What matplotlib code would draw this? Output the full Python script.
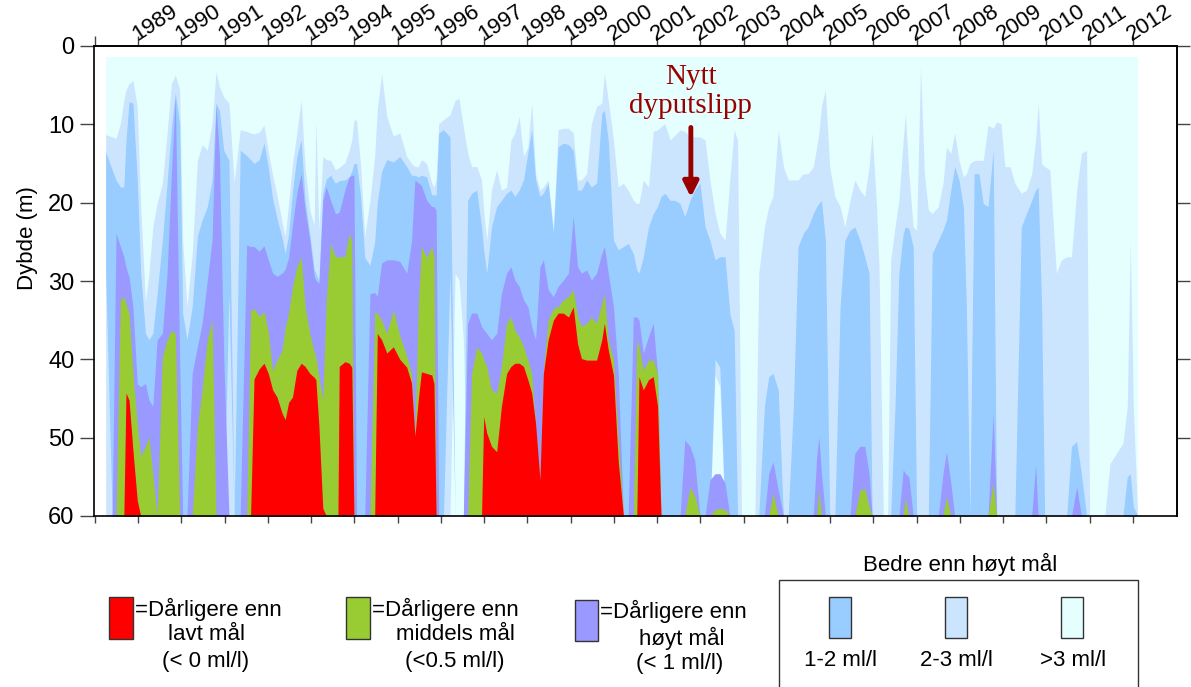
import numpy as np
import matplotlib
matplotlib.use("Agg")
import matplotlib.pyplot as plt
from matplotlib.patches import Rectangle

plt.rcParams['font.family'] = ['Liberation Sans', 'DejaVu Sans']

# ---------------- data ----------------
# sampling times (decimal year)
time = [
    1988.25, 1988.40, 1988.49, 1988.59, 1988.67, 1988.72, 1988.79, 1988.88, 1988.98,
    1989.06, 1989.17, 1989.25, 1989.34, 1989.44, 1989.56, 1989.67, 1989.77, 1989.86, 1989.96,
    1990.03, 1990.13, 1990.25, 1990.37, 1990.48, 1990.60, 1990.71, 1990.80, 1990.88, 1990.98,
    1991.10, 1991.22, 1991.36, 1991.51, 1991.60, 1991.68, 1991.80, 1991.91,
    1992.01, 1992.11, 1992.21, 1992.33, 1992.40, 1992.48, 1992.57, 1992.67, 1992.77, 1992.86, 1992.97,
    1993.07, 1993.11, 1993.18, 1993.27, 1993.35, 1993.45, 1993.56, 1993.62, 1993.65, 1993.78, 1993.88, 1993.94, 1993.99,
    1994.05, 1994.14, 1994.24, 1994.36, 1994.47, 1994.53, 1994.63, 1994.75, 1994.90,
    1995.05, 1995.21, 1995.32, 1995.40, 1995.48, 1995.55, 1995.67, 1995.79, 1995.84, 1995.89, 1995.95,
    1996.06, 1996.21, 1996.33, 1996.42, 1996.52, 1996.62, 1996.71, 1996.83, 1996.94, 1996.99,
    1997.06, 1997.17, 1997.29, 1997.40, 1997.52, 1997.62, 1997.71, 1997.81, 1997.91,
    1998.01, 1998.10, 1998.19, 1998.29, 1998.37, 1998.48, 1998.60, 1998.71, 1998.83, 1998.95,
    1999.06, 1999.16, 1999.25, 1999.37, 1999.48, 1999.60, 1999.72, 1999.78, 1999.87, 1999.99,
    2000.10, 2000.22, 2000.33, 2000.45, 2000.53, 2000.58, 2000.68, 2000.80, 2000.91,
    2001.01, 2001.09, 2001.18, 2001.30, 2001.41, 2001.53, 2001.64, 2001.76, 2001.87, 2001.99,
    2002.11, 2002.22, 2002.34, 2002.45, 2002.57, 2002.68, 2002.78, 2002.86, 2002.95,
    2003.11, 2003.26, 2003.35, 2003.48, 2003.58, 2003.68, 2003.80, 2003.92,
    2004.03, 2004.15, 2004.26, 2004.38, 2004.49, 2004.61, 2004.69, 2004.74, 2004.80, 2004.89, 2004.99,
    2005.11, 2005.23, 2005.34, 2005.46, 2005.57, 2005.69, 2005.80, 2005.90, 2005.97,
    2006.07, 2006.13, 2006.23, 2006.33, 2006.40, 2006.50, 2006.59, 2006.69, 2006.74, 2006.82, 2006.92,
    2007.00, 2007.09, 2007.18, 2007.27, 2007.36, 2007.50, 2007.61, 2007.69, 2007.79, 2007.88, 2007.98,
    2008.08, 2008.15, 2008.23, 2008.33, 2008.44, 2008.54, 2008.65, 2008.77, 2008.85, 2008.95,
    2009.04, 2009.16, 2009.27, 2009.42, 2009.54, 2009.66, 2009.75, 2009.81, 2009.89, 2009.96,
    2010.08, 2010.23, 2010.35, 2010.47, 2010.58, 2010.70, 2010.81, 2010.93,
    2011.00, 2011.12, 2011.35, 2011.47, 2011.62, 2011.77, 2011.87, 2011.94,
    2012.01, 2012.11,
]

# depth (m) where oxygen first falls below 3 ml/l (top of 2-3 ml/l layer)
depth_below_3 = [
    11.3, 11.6, 11.8, 9.9, 6.9, 5.6, 4.8, 4.4, 7.7,
    20.5, 32.6, 29.0, 23.1, 20.1, 17.5, 11.1, 4.8, 3.7, 5.6,
    24.8, 33.3, 26.5, 14.6, 12.6, 13.3, 9.9, 3.3, 5.2, 6.5,
    7.3, 17.4, 10.7, 10.9, 11.1, 11.2, 11.0, 10.1,
    13.5, 16.5, 19.0, 22.5, 24.3, 20.0, 15.0, 11.1, 6.9, 15.4, 20.9,
    23.0, 9.4, 23.5, 14.1, 14.5, 14.6, 15.8, 15.6, 15.5, 14.9, 13.3, 12.0, 9.5,
    9.4, 15.0, 24.3, 19.7, 14.0, 8.0, 3.5, 9.0, 11.5,
    11.1, 14.1, 15.0, 15.4, 15.4, 14.5, 15.0, 17.5, 18.0, 17.0, 9.9,
    9.4, 8.8, 6.9, 6.7, 10.3, 13.7, 15.4, 15.4, 17.1, 21.0,
    24.8, 18.4, 15.8, 18.4, 18.0, 12.0, 11.1, 9.0, 14.1,
    12.9, 7.3, 16.3, 18.4, 18.0, 17.1, 23.1, 10.7, 10.5, 10.5,
    11.1, 17.1, 17.1, 16.3, 9.9, 7.7, 7.3, 3.5, 6.9, 12.0,
    18.0, 17.5, 18.4, 19.7, 20.1, 20.1, 17.1, 18.0, 10.9,
    10.7, 10.3, 9.9, 12.0, 11.4, 10.7, 10.9, 11.6, 11.6, 11.6,
    12.0, 17.1, 21.4, 23.9, 24.8, 17.1, 10.7, 12.0, 60,
    60, 60, 29.0, 23.1, 20.5, 19.2, 10.7, 15.4,
    17.1, 17.1, 17.1, 16.3, 16.3, 15.4, 12.9, 11.1, 7.7, 5.6, 15.4,
    19.2, 20.5, 23.1, 19.7, 17.1, 18.4, 19.2, 15.4, 11.1,
    20.0, 28.2, 60, 60, 27.3, 23.1, 19.7, 12.0, 8.6, 16.3, 23.1,
    23.5, 2.6, 16.3, 20.9, 21.4, 20.5, 17.5, 12.9, 13.7, 11.1, 14.6,
    16.7, 16.3, 15.0, 14.6, 14.6, 14.6, 10.1, 10.5, 9.7, 9.9,
    15.4, 15.4, 17.5, 18.8, 18.4, 16.3, 12.0, 7.3, 15.0, 15.4,
    15.8, 29.0, 27.3, 26.9, 26.9, 18.4, 13.7, 13.3,
    60, 60, 60, 53.3, 52.0, 50.7, 46.0, 24.8,
    46.0, 60,
]

# depth (m) where oxygen first falls below 2 ml/l
depth_below_2 = [
    13.5, 15.8, 17.1, 18.0, 18.0, 12.0, 7.1, 7.3, 17.1,
    29.0, 36.7, 37.5, 36.7, 31.6, 24.8, 17.5, 10.3, 6.0, 9.9,
    34.1, 37.5, 33.3, 24.3, 22.2, 20.5, 17.1, 7.3, 8.2, 13.3,
    14.6, 60, 13.3, 14.0, 14.5, 15.0, 14.5, 12.4,
    15.5, 19.5, 22.0, 24.5, 26.5, 24.0, 18.5, 14.1, 12.0, 19.7, 24.0,
    28.5, 29.0, 30.0, 18.8, 17.0, 16.5, 17.5, 17.3, 17.2, 17.1, 16.7, 16.0, 15.0,
    15.0, 19.0, 27.0, 28.0, 25.0, 20.0, 16.0, 14.5, 14.8,
    14.1, 15.4, 16.5, 16.5, 16.7, 16.5, 16.7, 19.0, 19.0, 19.0, 11.1,
    10.7, 11.6, 60, 60, 60, 19.7, 18.8, 18.4, 23.1, 26.0,
    29.0, 23.1, 20.5, 19.7, 18.8, 18.4, 19.2, 18.4, 17.1,
    13.7, 10.7, 17.1, 19.2, 18.8, 17.5, 23.9, 12.9, 12.4, 12.6,
    13.3, 18.4, 18.4, 17.1, 18.0, 17.5, 8.6, 8.2, 12.0, 24.8,
    26.0, 25.6, 25.2, 26.5, 28.6, 29.0, 26.9, 23.1, 21.4,
    20.5, 19.2, 18.8, 19.7, 19.7, 20.1, 21.8, 19.7, 18.4, 17.5,
    23.1, 24.8, 27.3, 26.9, 26.9, 34.1, 36.3, 60, 60,
    60, 60, 60, 46.0, 42.2, 41.8, 43.9, 60,
    60, 46.0, 25.6, 23.9, 23.1, 21.4, 20.5, 20.1, 19.7, 24.8, 60,
    60, 33.3, 24.8, 23.5, 23.1, 24.8, 26.9, 29.0, 60,
    60, 60, 60, 60, 60, 46.0, 29.0, 23.9, 23.1, 23.3, 25.6,
    60, 60, 60, 60, 26.5, 24.8, 23.5, 22.2, 18.4, 15.4, 17.1,
    20.5, 33.3, 60, 16.3, 16.3, 20.1, 20.5, 13.3, 60, 60,
    60, 60, 60, 23.1, 21.4, 19.7, 18.4, 18.0, 33.3, 60,
    60, 60, 60, 60, 51.1, 50.5, 54.6, 60,
    60, 60, 60, 60, 60, 60, 55.0, 54.6,
    58.8, 60,
]

# depth (m) where oxygen first falls below 1 ml/l
depth_below_1 = [
    60, 60, 23.9, 25.6, 26.9, 28.2, 29.5, 33.3, 43.1,
    43.5, 43.1, 45.2, 46.0, 37.5, 36.7, 29.0, 16.3, 6.5, 40.0,
    60, 60, 41.8, 38.4, 35.4, 29.9, 24.8, 7.5, 14.1, 40.0,
    60, 60, 60, 25.4, 25.6, 25.6, 26.2, 25.5,
    27.3, 29.0, 29.4, 29.0, 28.5, 27.0, 22.8, 18.8, 16.3, 20.9, 24.8,
    29.4, 29.9, 30.3, 19.7, 18.0, 19.7, 21.4, 21.3, 21.2, 18.4, 16.7, 16.5, 16.5,
    60, 60, 60, 31.6, 31.5, 31.9, 27.7, 27.3, 27.3,
    27.5, 29.0, 25.0, 17.1, 17.5, 17.8, 19.7, 20.5, 20.5, 21.0, 60,
    60, 60, 60, 60, 60, 35.4, 34.1, 34.1, 35.8, 36.2,
    36.7, 37.5, 36.7, 31.6, 29.0, 28.2, 29.9, 30.7, 32.4,
    33.3, 35.8, 37.5, 28.2, 27.3, 31.1, 32.0, 30.7, 29.9, 29.0,
    21.8, 28.2, 29.0, 28.6, 29.9, 29.0, 26.5, 25.6, 29.0, 33.3,
    41.8, 60, 60, 34.6, 34.6, 35.0, 39.2, 37.1, 35.4,
    41.8, 60, 60, 60, 60, 60, 50.3, 51.1, 52.9, 60,
    60, 55.4, 54.6, 54.6, 55.8, 60, 60, 60, 60,
    60, 60, 60, 60, 54.6, 53.1, 56.7, 60,
    60, 60, 60, 60, 60, 60, 52.4, 49.9, 54.6, 60, 60,
    60, 60, 60, 60, 52.0, 51.1, 51.1, 54.6, 60,
    60, 60, 60, 60, 60, 60, 60, 54.1, 54.6, 55.0, 60,
    60, 60, 60, 60, 60, 60, 54.6, 51.8, 55.8, 60, 60,
    60, 60, 60, 60, 60, 60, 60, 47.0, 60, 60,
    60, 60, 60, 60, 60, 60, 53.5, 60, 60, 60,
    60, 60, 60, 60, 60, 56.3, 60, 60,
    60, 60, 60, 60, 60, 60, 60, 60,
    60, 60,
]

# depth (m) where oxygen first falls below 0.5 ml/l
depth_below_05 = [
    60, 60, 60, 32.4, 32.0, 32.9, 34.1, 41.8, 48.2,
    52.4, 51.1, 49.9, 54.6, 60, 39.7, 37.5, 36.3, 36.7, 60,
    60, 60, 60, 48.6, 43.9, 37.5, 35.0, 60, 60, 60,
    60, 60, 60, 60, 33.8, 33.5, 34.5, 33.9,
    36.5, 41.5, 40.1, 38.8, 36.0, 34.0, 30.7, 28.2, 26.9, 33.3, 36.7,
    39.0, 39.7, 42.2, 45.2, 32.4, 25.2, 26.9, 26.9, 26.9, 26.9, 23.9, 25.0, 60,
    60, 60, 60, 60, 34.0, 34.1, 35.0, 36.7, 33.7,
    37.0, 39.5, 41.8, 49.4, 33.0, 25.6, 27.0, 25.6, 26.9, 60, 60,
    60, 60, 60, 60, 60, 60, 41.8, 38.4, 39.2, 40.0,
    40.9, 43.9, 44.3, 40.9, 35.4, 34.6, 36.3, 37.1, 38.4,
    40.1, 41.8, 48.2, 55.4, 41.4, 35.0, 33.5, 33.3, 32.4, 32.0,
    31.1, 34.5, 35.8, 35.4, 34.6, 35.4, 32.9, 31.6, 37.5, 40.0,
    50.0, 60, 60, 60, 37.5, 38.4, 41.4, 40.1, 40.1,
    41.8, 60, 60, 60, 60, 60, 60, 56.3, 57.5, 60,
    60, 60, 59.2, 59.0, 59.2, 60, 60, 60, 60,
    60, 60, 60, 60, 60, 57.1, 60, 60,
    60, 60, 60, 60, 60, 60, 60, 56.7, 60, 60, 60,
    60, 60, 60, 60, 60, 56.7, 56.5, 58.8, 60,
    60, 60, 60, 60, 60, 60, 60, 60, 57.7, 60, 60,
    60, 60, 60, 60, 60, 60, 60, 57.5, 60, 60, 60,
    60, 60, 60, 60, 60, 60, 60, 55.8, 60, 60,
    60, 60, 60, 60, 60, 60, 60, 60, 60, 60,
    60, 60, 60, 60, 60, 60, 60, 60,
    60, 60, 60, 60, 60, 60, 60, 60,
    60, 60,
]

# depth (m) where oxygen first falls below 0 ml/l (H2S)
depth_below_0 = [
    60, 60, 60, 60, 60, 44.3, 45.2, 51.6, 58.0,
    60, 60, 60, 60, 60, 60, 60, 60, 60, 60,
    60, 60, 60, 60, 60, 60, 60, 60, 60, 60,
    60, 60, 60, 60, 60, 42.5, 41.2, 40.5,
    41.8, 43.9, 44.8, 46.9, 47.7, 45.5, 44.8, 41.4, 40.5, 40.9, 41.8,
    42.3, 42.6, 48.5, 59.0, 60, 60, 60, 60, 40.9, 40.3, 40.5, 41.0, 60,
    60, 60, 60, 60, 60, 36.7, 37.5, 39.2, 38.4,
    40.0, 41.0, 43.0, 49.8, 45.0, 41.6, 41.8, 42.0, 43.1, 60, 60,
    60, 60, 60, 60, 60, 60, 60, 60, 60, 47.3,
    49.4, 51.1, 51.8, 46.0, 41.8, 40.9, 40.5, 40.5, 40.9,
    42.6, 44.3, 48.2, 55.4, 41.8, 37.5, 35.0, 34.1, 34.1, 34.6,
    33.3, 38.0, 39.9, 40.1, 40.1, 40.1, 37.5, 35.4, 38.8, 42.0,
    53.0, 60, 60, 60, 60, 42.2, 43.9, 42.6, 42.2,
    46.0, 60, 60, 60, 60, 60, 60, 60, 60, 60,
    60, 60, 60, 60, 60, 60, 60, 60, 60,
    60, 60, 60, 60, 60, 60, 60, 60,
    60, 60, 60, 60, 60, 60, 60, 60, 60, 60, 60,
    60, 60, 60, 60, 60, 60, 60, 60, 60,
    60, 60, 60, 60, 60, 60, 60, 60, 60, 60, 60,
    60, 60, 60, 60, 60, 60, 60, 60, 60, 60, 60,
    60, 60, 60, 60, 60, 60, 60, 60, 60, 60,
    60, 60, 60, 60, 60, 60, 60, 60, 60, 60,
    60, 60, 60, 60, 60, 60, 60, 60,
    60, 60, 60, 60, 60, 60, 60, 60,
    60, 60,
]

# deep-water renewal: depth below which oxygen rises again
renew_12_time = [1988.25, 1991.10, 1996.21, 2002.34, 2002.45]   # back to 2-3 ml/l
renew_12_depth = [29.0, 31.6, 29.0, 40.0, 41.0]
renew_23_time = [1996.33, 1996.42, 1996.52, 2002.34, 2002.45]   # back to >3 ml/l
renew_23_depth = [29.0, 29.9, 37.5, 42.0, 43.5]

top_depth = 1.45
bottom_depth = 60.0
years = list(range(1988, 2013))
depth_ticks = [0, 10, 20, 30, 40, 50, 60]

layer_colors = {
    'gt3': '#E5FFFF', '2-3': '#CCE5FF', '1-2': '#99CCFF',
    'lt1': '#9999FF', 'lt05': '#99CC33', 'lt0': '#FF0000',
}

# ---------------- figure ----------------
W, H = 1191, 687
fig = plt.figure(figsize=(W / 100, H / 100), dpi=100)
L, R, T, B = 94, 1177, 46, 516
ax = fig.add_axes([L / W, 1 - B / H, (R - L) / W, (B - T) / H])

t = np.array(time)
n = len(t)
arrs = [np.array(a, float) for a in (depth_below_3, depth_below_2, depth_below_1,
                                      depth_below_05, depth_below_0)]
for a in arrs:
    assert len(a) == n, (len(a), n)
assert np.all(np.diff(t) > 0)
d3, d2, d1, d05, d0 = arrs

bot12 = np.full(n, bottom_depth)
for tt, dd in zip(renew_12_time, renew_12_depth):
    bot12[np.argmin(np.abs(t - tt))] = dd
bot23 = np.full(n, bottom_depth)
for tt, dd in zip(renew_23_time, renew_23_depth):
    bot23[np.argmin(np.abs(t - tt))] = dd

kw = dict(lw=0, antialiased=True)
ax.fill_between(t, top_depth, bottom_depth, color=layer_colors['gt3'], **kw)
ax.fill_between(t, d3, bot23, color=layer_colors['2-3'], **kw)
ax.fill_between(t, d2, bot12, color=layer_colors['1-2'], **kw)
ax.fill_between(t, d1, bottom_depth, color=layer_colors['lt1'], **kw)
ax.fill_between(t, d05, bottom_depth, color=layer_colors['lt05'], **kw)
ax.fill_between(t, d0, bottom_depth, color=layer_colors['lt0'], **kw)

ax.set_xlim(1987.98, 2013.02)
ax.set_ylim(60, 0)

for s in ax.spines.values():
    s.set_linewidth(1.2)
    s.set_color('black')

tick_col = '#444444'
ax.set_yticks(depth_ticks)
ax.tick_params(axis='y', which='major', left=True, right=False, direction='out',
               length=10, width=1.0, color=tick_col, labelsize=17, pad=4)
ax.set_xticks(years)
ax.tick_params(axis='x', which='major', bottom=True, top=False, direction='out',
               length=5, width=1.0, color=tick_col, labelbottom=False)

sec_top = ax.secondary_xaxis('top')
sec_top.set_xticks(years)
sec_top.tick_params(axis='x', direction='out', length=7.5, width=1.0, color=tick_col,
                    labeltop=False)
sec_top.spines['top'].set_linewidth(1.2)

sec_r = ax.secondary_yaxis('right')
sec_r.set_yticks(depth_ticks[:-1])
sec_r.tick_params(axis='y', direction='out', length=9, width=1.0, color=tick_col,
                  labelright=False)
sec_r.spines['right'].set_linewidth(1.2)

for yv in years[1:]:
    ax.annotate(str(yv), xy=(yv, 1.0), xycoords=('data', 'axes fraction'),
                xytext=(1.0, 0.5), textcoords='offset points', rotation=33,
                rotation_mode='anchor', ha='left', va='bottom', fontsize=16,
                annotation_clip=False)

fig.text(27 / W, 1 - 238 / H, 'Dybde (m)', rotation=90, ha='center', va='center',
         fontsize=16)

# annotation
dark_red = '#990000'
ax.text(2001.78, 3.9, 'Nytt', ha='center', va='center', color=dark_red,
        fontsize=21, family=['Liberation Serif', 'DejaVu Serif'])
ax.text(2001.78, 7.6, 'dyputslipp', ha='center', va='center', color=dark_red,
        fontsize=21, family=['Liberation Serif', 'DejaVu Serif'])
ax.annotate('', xy=(2001.78, 19.3), xytext=(2001.78, 10.4),
            arrowprops=dict(arrowstyle='-|>,head_length=0.9,head_width=0.45',
                            lw=3.5, color=dark_red, shrinkA=0, shrinkB=0))

# ---------------- legend ----------------
def fx(x):
    return x / W

def fy(y):
    return 1 - y / H

def patch(x0, y0, x1, y1, col):
    fig.add_artist(Rectangle((fx(x0), fy(y1)), fx(x1) - fx(x0), fy(y0) - fy(y1),
                             transform=fig.transFigure, facecolor=col,
                             edgecolor='#333333', lw=1.0))

lfs = 16
patch(109, 597, 133, 639, layer_colors['lt0'])
fig.text(fx(135), fy(609), '=Dårligere enn', ha='left', va='center', fontsize=lfs)
fig.text(fx(206), fy(635), 'lavt mål', ha='center', va='center', fontsize=lfs)
fig.text(fx(206), fy(662), '(< 0 ml/l)', ha='center', va='center', fontsize=lfs)

patch(346, 597, 370, 639, layer_colors['lt05'])
fig.text(fx(372), fy(609), '=Dårligere enn', ha='left', va='center', fontsize=lfs)
fig.text(fx(455), fy(635), 'middels mål', ha='center', va='center', fontsize=lfs)
fig.text(fx(455), fy(662), '(<0.5 ml/l)', ha='center', va='center', fontsize=lfs)

patch(575, 600, 598, 641, layer_colors['lt1'])
fig.text(fx(600), fy(611), '=Dårligere enn', ha='left', va='center', fontsize=lfs)
fig.text(fx(682), fy(638), 'høyt mål', ha='center', va='center', fontsize=lfs)
fig.text(fx(680), fy(664), '(< 1 ml/l)', ha='center', va='center', fontsize=lfs)

fig.add_artist(Rectangle((fx(779), fy(700)), fx(1138) - fx(779), fy(580) - fy(700),
                         transform=fig.transFigure, facecolor='none',
                         edgecolor='#333333', lw=1.0))
fig.text(fx(960), fy(564), 'Bedre enn høyt mål', ha='center', va='center', fontsize=lfs)
patch(829, 597, 851, 638, layer_colors['1-2'])
patch(945, 597, 967, 638, layer_colors['2-3'])
patch(1061, 597, 1083, 638, layer_colors['gt3'])
fig.text(fx(840), fy(660), '1-2 ml/l', ha='center', va='center', fontsize=lfs)
fig.text(fx(956), fy(660), '2-3 ml/l', ha='center', va='center', fontsize=lfs)
fig.text(fx(1073), fy(660), '>3 ml/l', ha='center', va='center', fontsize=lfs)

fig.savefig('out.png', dpi=100)
